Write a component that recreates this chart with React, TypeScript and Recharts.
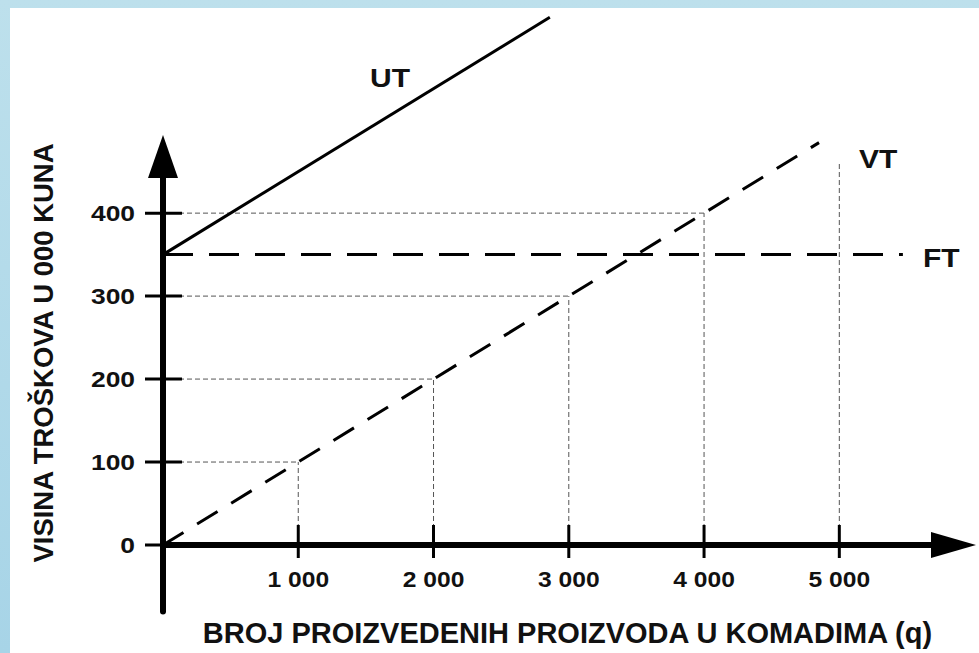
import React from 'react';
import {
  ComposedChart,
  Line,
  XAxis,
  YAxis,
  ReferenceLine,
  ReferenceDot,
} from 'recharts';

// quantity (q) ticks and cost ticks (in 000 kuna)
const qTicks = [1000, 2000, 3000, 4000, 5000];
const costTicks = [0, 100, 200, 300, 400];

// cost lines
const ftLine = [
  { q: 0, v: 350 },
  { q: 5470, v: 350 },
];
const vtLine = [
  { q: 0, v: 0 },
  { q: 4850, v: 485 },
];
const utLine = [
  { q: 0, v: 350 },
  { q: 2860, v: 636 },
];

// helper points on VT with dotted guides to the axes
const guidePoints = [
  { q: 1000, v: 100 },
  { q: 2000, v: 200 },
  { q: 3000, v: 300 },
  { q: 4000, v: 400 },
];
const vtGuideTop = { q: 5000, v: 460 };

const seriesLabels = [
  { name: 'UT', q: 1679, v: 563 },
  { name: 'VT', q: 5288, v: 465 },
  { name: 'FT', q: 5754, v: 346 },
];

const FONT = '"Liberation Sans", Arial, sans-serif';
const W = 979;
const H = 653;

const fmtQ = (n: number) => String(n).replace(/\B(?=(\d{3})+(?!\d))/g, ' ');

// bold text, a bit wider than the font itself (the source picture is stretched)
const WideText = ({ x, y, size, sx = 1.15, anchor = 'middle', children }: any) => (
  <text
    transform={`translate(${x} ${y}) scale(${sx} 1)`}
    x={0}
    y={0}
    textAnchor={anchor}
    fontFamily={FONT}
    fontWeight="bold"
    fontSize={size}
    fill="#111"
  >
    {children}
  </text>
);

const XTick = (props: any) => {
  const { x, y, payload } = props;
  return (
    <g>
      <line x1={x} x2={x} y1={y - 46} y2={y - 13} stroke="#000" strokeWidth={3} />
      <WideText x={x} y={y + 16} size={22} sx={1.12}>
        {fmtQ(payload.value)}
      </WideText>
    </g>
  );
};

const YTick = (props: any) => {
  const { x, y, payload } = props;
  return (
    <g>
      <line x1={x + 10} x2={x + 47} y1={y} y2={y} stroke="#000" strokeWidth={3} />
      <WideText x={x} y={y + 8} size={22} sx={1.2} anchor="end">
        {payload.value}
      </WideText>
    </g>
  );
};

const RightArrow = (props: any) => (
  <polygon
    points={`${props.cx - 3},${props.cy - 13} ${props.cx + 42},${props.cy} ${props.cx - 3},${props.cy + 13}`}
    fill="#000"
  />
);

const UpArrow = (props: any) => (
  <polygon
    points={`${props.cx - 15},${props.cy + 3} ${props.cx},${props.cy - 40} ${props.cx + 15},${props.cy + 3}`}
    fill="#000"
  />
);

const guide = { stroke: '#555', strokeWidth: 1, strokeDasharray: '5 3' };

export default function App() {
  return (
    <div
      style={{
        position: 'absolute',
        left: 0,
        top: 0,
        width: W,
        height: H,
        background: 'linear-gradient(#bde0ec, #a7d4e7)',
        overflow: 'hidden',
      }}
    >
      <div style={{ position: 'absolute', left: 10, top: 8, right: 0, bottom: 0, background: '#fff' }} />
      <div style={{ position: 'absolute', left: 0, top: 0 }}>
        <ComposedChart width={W} height={H} margin={{ top: 14, right: 45, bottom: 78, left: 103 }}>
          <XAxis
            dataKey="q"
            type="number"
            domain={[0, 5700]}
            allowDataOverflow
            height={30}
            ticks={qTicks}
            interval={0}
            tickSize={0}
            tickMargin={26}
            tickLine={false}
            axisLine={{ stroke: '#000', strokeWidth: 6 }}
            tick={<XTick />}
            label={{
              content: ({ viewBox }: any) => (
                <text
                  x={viewBox.x + viewBox.width / 2 + 19}
                  y={viewBox.y + 98}
                  textAnchor="middle"
                  fontFamily={FONT}
                  fontWeight="bold"
                  fontSize={29}
                  fill="#111"
                >
                  BROJ PROIZVEDENIH PROIZVODA U KOMADIMA (q)
                </text>
              ),
            }}
          />
          <YAxis
            dataKey="v"
            type="number"
            domain={[0, 640]}
            allowDataOverflow
            width={60}
            ticks={costTicks}
            interval={0}
            tickSize={0}
            tickMargin={28}
            tickLine={false}
            axisLine={false}
            tick={<YTick />}
            label={{
              content: () => (
                <text
                  x={0}
                  y={0}
                  transform="translate(53 353) rotate(-90)"
                  textAnchor="middle"
                  fontFamily={FONT}
                  fontWeight="bold"
                  fontSize={27.5}
                  fill="#111"
                >
                  VISINA TROŠKOVA U 000 KUNA
                </text>
              ),
            }}
          />

          {guidePoints.map((p) => (
            <ReferenceLine
              key={`h${p.q}`}
              segment={[
                { x: 0, y: p.v },
                { x: p.q, y: p.v },
              ]}
              {...guide}
            />
          ))}
          {guidePoints.map((p) => (
            <ReferenceLine
              key={`v${p.q}`}
              segment={[
                { x: p.q, y: 0 },
                { x: p.q, y: p.v },
              ]}
              {...guide}
            />
          ))}
          <ReferenceLine
            segment={[
              { x: vtGuideTop.q, y: 0 },
              { x: vtGuideTop.q, y: vtGuideTop.v },
            ]}
            {...guide}
          />

          {/* y axis with arrow, extended below zero */}
          <ReferenceLine
            segment={[
              { x: 0, y: -80 },
              { x: 0, y: 446 },
            ]}
            stroke="#000"
            strokeWidth={6}
            strokeLinecap="round"
            ifOverflow="visible"
          />
          <ReferenceDot x={0} y={446} r={0} ifOverflow="visible" shape={<UpArrow />} />
          <ReferenceDot x={5700} y={0} r={0} ifOverflow="visible" shape={<RightArrow />} />

          <Line
            data={ftLine}
            dataKey="v"
            stroke="#000"
            strokeWidth={3}
            strokeDasharray="30 16"
            dot={false}
            isAnimationActive={false}
          />
          <Line
            data={vtLine}
            dataKey="v"
            stroke="#000"
            strokeWidth={3}
            strokeDasharray="24 16"
            dot={false}
            isAnimationActive={false}
          />
          <Line
            data={utLine}
            dataKey="v"
            stroke="#000"
            strokeWidth={3}
            dot={false}
            isAnimationActive={false}
          />

          {seriesLabels.map((s) => (
            <ReferenceDot
              key={s.name}
              x={s.q}
              y={s.v}
              r={0}
              ifOverflow="visible"
              label={{
                content: ({ viewBox }: any) => (
                  <WideText
                    x={viewBox.x + (viewBox.width || 0) / 2}
                    y={viewBox.y + (viewBox.height || 0) / 2 + 9}
                    size={25}
                    sx={1.2}
                  >
                    {s.name}
                  </WideText>
                ),
              }}
            />
          ))}
        </ComposedChart>
      </div>
    </div>
  );
}
